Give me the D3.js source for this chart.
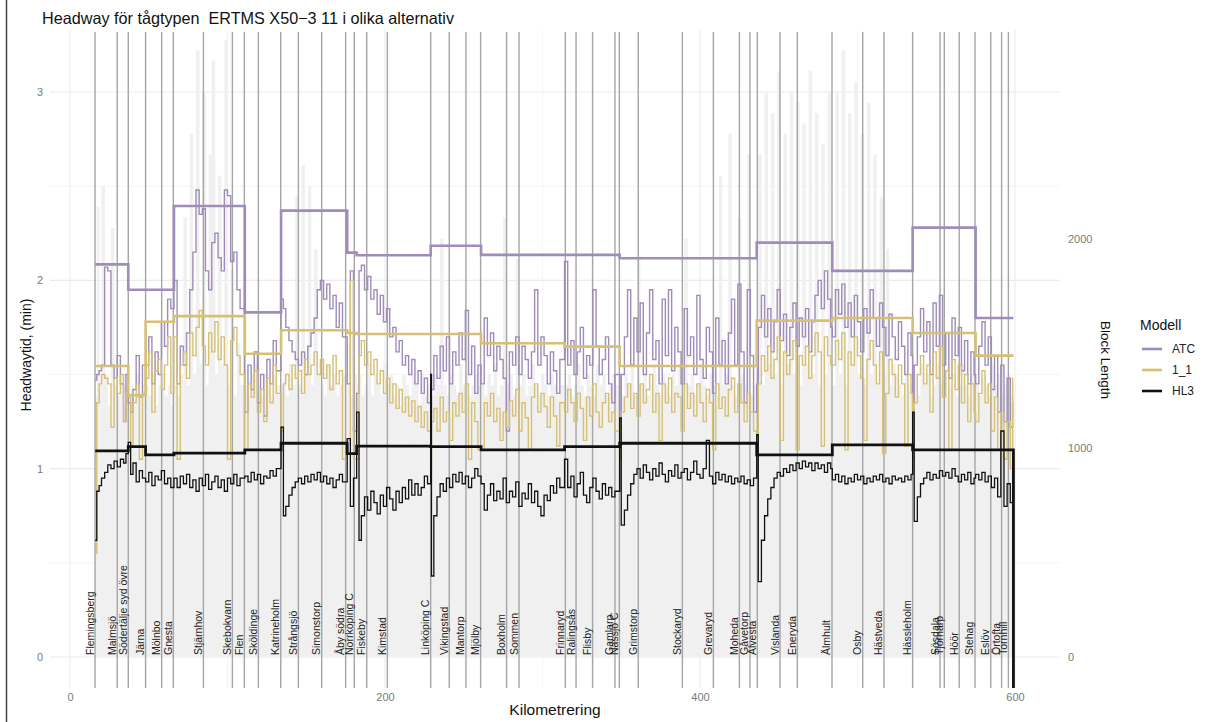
<!DOCTYPE html>
<html lang="sv">
<head>
<meta charset="UTF-8">
<script src="https://d3js.org/d3.v7.min.js"></script>
<style>
  body { margin: 0; background: #fff; }
  text { font-family: "Liberation Sans", Arial, sans-serif; }
  .tick text { fill: #7a7a7a; font-size: 11px; }
  .tick line, .domain { display: none; }
</style>
</head>
<body>
<svg width="1206" height="722"></svg>
<script>
// ---- data ----
var modelNames = ["ATC", "1_1", "HL3"];
var xTicks = [0, 200, 400, 600];
var yTicks = [0, 1, 2, 3];
var blTicks = [0, 1000, 2000];

var stationNames = ["Flemingsberg","Malmsjö","Södertälje syd övre","Järna","Mölnbo","Gnesta","Stjärnhov",
  "Skebokvarn","Flen","Sköldinge","Katrineholm","Strångsjö","Simonstorp","Åby södra","Norrköping C","Fiskeby",
  "Kimstad","Linköping C","Vikingstad","Mantorp","Mjölby","Boxholm","Sommen","Frinnaryd","Ralingsås","Flisby",
  "Gamlarp","Nässjö C","Grimstorp","Stockaryd","Grevaryd","Moheda","Gåvetorp","Alvesta","Vislanda","Eneryda",
  "Älmhult","Osby","Hästveda","Hässleholm","Sösdala","Tjörnarp","Höör","Stehag","Eslöv","Örtofta","Tornhill"];
var stationKm = [15.9,30.0,37.0,48.0,58.2,65.6,84.7,103.1,110.7,119.6,133.8,145.0,159.8,175.0,180.5,188.4,
  201.5,229.0,240.8,251.4,260.7,277.2,285.1,314.5,321.3,331.8,346.0,348.8,360.8,388.8,408.5,425.0,431.7,436.4,
  450.8,461.8,483.8,503.3,516.8,535.0,552.4,555.1,564.6,574.6,584.6,591.5,595.8];

// section (thick) lines: value from sectionKm[i] to sectionKm[i+1]
var sectionKm  = [16, 37, 48, 66, 111, 134, 176, 182, 229, 261, 314, 349, 436, 484, 535, 575, 599];
var atcSection = [2.085, 1.95, 1.95, 2.395, 1.83, 2.37, 2.147, 2.133, 2.184, 2.135, 2.135, 2.117, 2.20, 2.05, 2.28, 1.80];
var oneSection = [1.545, 1.39, 1.78, 1.81, 1.61, 1.735, 1.72, 1.715, 1.715, 1.666, 1.648, 1.545, 1.786, 1.80, 1.72, 1.60];
var hl3Section = [1.094, 1.117, 1.073, 1.082, 1.10, 1.135, 1.08, 1.12, 1.117, 1.10, 1.117, 1.135, 1.073, 1.126, 1.10, 1.10];
var hl3EndDrop = -0.3;

// block (thin) lines and block lengths
var endKm = 599;
var blockKm = [
  16, 17, 18.5, 20, 22, 24, 26, 28, 30, 32, 34, 35.5,
  37, 38.5, 40, 42, 44, 46,
  48, 50, 52, 54, 56, 58, 60, 62, 64,
  66, 68, 70, 72, 74, 76, 78, 80, 82, 84, 86, 88, 90, 92, 94, 96, 98, 100, 102, 104, 106, 108,
  111, 113, 115, 117, 119, 121, 123, 125, 127, 129, 131,
  134, 135.5, 137, 139, 141, 143, 145, 147, 149, 151, 153, 155, 157, 159, 161, 163, 165, 167, 169, 171, 173,
  176, 178, 180,
  182, 183.5, 185, 187, 189, 191, 193, 195, 197, 199, 201, 203, 205, 207, 209, 211, 213, 215, 217, 219, 221, 223, 225, 227,
  229, 229.5, 231, 233, 235, 237, 239, 241, 243, 245, 247, 249, 251, 253, 255, 257, 259,
  261, 263, 265, 267, 269, 271, 273, 275, 277, 279, 281, 283, 285, 287, 289, 291, 293, 295, 297, 299, 301, 303, 305, 307, 309, 311,
  314, 316, 318, 320, 322, 324, 326, 328, 330, 332, 334, 336, 338, 340, 342, 344, 346,
  349, 350, 352, 354, 356, 358, 360, 362, 364, 366, 368, 370, 372, 374, 376, 378, 380, 382, 384, 386, 388, 390,
  392, 394, 396, 398, 400, 402, 404, 406, 408, 410, 412, 414, 416, 418, 420, 422, 424, 426, 428, 430, 432, 434,
  436, 437, 439, 441, 443, 445, 447, 449, 451, 453, 455, 457, 459, 461, 463, 465, 467, 469, 471, 473, 475, 477, 479, 481, 483,
  484, 486, 488, 490, 492, 494, 496, 498, 500, 502, 504, 506, 508, 510, 512, 514, 516, 518, 520, 522, 524, 526, 528, 530, 532, 534,
  535, 536, 538, 540, 542, 544, 546, 548, 550, 552, 554, 556, 558, 560, 562, 564, 566, 568, 570, 572, 574,
  575, 577, 579, 581, 583, 585, 587, 589, 591, 593, 595, 597, 598.5
];
var atcHeadway = [
  1.47, 1.50, 1.52, 1.55, 2.07, 2.05, 1.55, 1.48, 1.60, 1.45, 1.25, 1.50,
  1.35, 1.30, 1.42, 1.60, 1.38, 1.55,
  1.55, 1.70, 1.45, 1.62, 1.50, 1.78, 1.65, 1.90, 1.85,
  2.00, 1.45, 1.65, 1.55, 1.72, 1.95, 2.15, 2.48, 2.35, 2.38, 2.05, 1.95, 2.20, 2.25, 2.12, 2.05, 2.48, 2.45, 2.10, 2.15, 1.95, 1.85,
  1.30, 1.55, 1.42, 1.62, 1.35, 1.50, 1.28, 1.58, 1.45, 1.68, 1.52,
  1.90, 1.85, 1.75, 1.68, 1.62, 1.58, 1.55, 1.62, 1.50, 1.65, 1.72, 1.80, 1.95, 2.00, 1.90, 1.98, 1.85, 1.92, 1.75, 1.88, 1.70,
  1.45, 2.05, 1.20,
  1.40, 2.05, 2.08, 1.95, 2.02, 1.90, 1.95, 1.82, 1.92, 1.78, 1.85, 1.70, 1.75, 1.62, 1.68, 1.55, 1.60, 1.50, 1.58, 1.45, 1.52, 1.40, 1.48, 1.35,
  1.50, 1.42, 1.60, 1.48, 1.65, 1.52, 1.70, 1.45, 1.62, 1.55, 1.72, 1.58, 1.84, 1.50, 1.65, 1.40, 1.55,
  1.45, 1.80, 1.60, 1.72, 1.52, 1.65, 1.58, 1.48, 1.20, 1.62, 1.55, 1.70, 1.50, 1.65, 1.58, 1.48, 1.62, 1.95, 1.55, 1.70, 1.60, 1.45, 1.62, 1.52, 1.40, 1.58,
  2.10, 1.55, 1.68, 1.50, 1.62, 1.75, 1.48, 1.60, 1.55, 1.95, 1.65, 1.50, 1.58, 1.70, 1.45, 1.35, 1.50,
  1.25, 1.50, 1.70, 1.95, 1.55, 1.80, 1.62, 1.88, 1.50, 1.72, 1.95, 1.58, 1.68, 1.45, 1.90, 1.60, 1.95, 1.52, 1.75, 1.62, 1.45, 1.85,
  1.60, 1.70, 1.50, 1.92, 1.58, 1.48, 1.75, 1.62, 1.40, 1.80, 1.55, 1.68, 1.45, 1.72, 1.90, 1.55, 1.98, 1.62, 1.35, 1.95, 1.60, 1.30,
  1.45, 1.75, 1.92, 1.70, 1.85, 1.62, 1.78, 1.95, 1.68, 1.82, 1.60, 1.75, 1.88, 1.65, 1.80, 1.70, 1.85, 1.62, 1.78, 1.92, 2.00, 1.85, 2.05, 1.90, 1.75,
  1.70, 1.95, 1.82, 1.98, 1.75, 1.88, 1.70, 1.92, 1.78, 1.62, 1.85, 1.72, 1.95, 1.80, 1.65, 1.88, 1.75, 1.60, 1.82, 1.70, 1.58, 1.78, 1.65, 1.50, 1.72, 1.60,
  1.35, 1.55, 1.70, 1.85, 1.62, 1.78, 1.50, 1.88, 1.65, 1.92, 1.55, 1.72, 1.48, 1.80, 1.60, 1.75, 1.52, 1.68, 1.45, 1.62, 1.50,
  1.45, 1.65, 1.78, 1.55, 1.70, 1.42, 1.60, 1.30, 1.55, 1.25, 1.48, 1.22, 1.35
];
var oneHeadway = [
  0.55, 1.35, 1.45, 1.50, 1.48, 1.45, 1.22, 1.48, 1.40, 1.50, 1.25, 1.40,
  1.38, 1.12, 1.35, 1.45, 1.05, 1.40,
  1.48, 1.62, 1.30, 1.52, 1.58, 1.42, 1.55, 1.70, 1.40,
  1.70, 1.05, 1.55, 1.62, 1.48, 1.72, 1.60, 1.75, 1.84, 1.65, 1.55, 1.72, 1.62, 1.78, 1.58, 1.70, 1.55, 1.05, 1.68, 1.75, 1.60, 1.50,
  1.10, 1.45, 1.38, 1.52, 1.30, 1.42, 1.25, 1.48, 1.35, 1.55, 1.40,
  1.20, 1.45, 1.50, 1.42, 1.55, 1.48, 1.52, 1.40, 1.58, 1.50, 1.55, 1.62, 1.50, 1.58, 1.48, 1.55, 1.42, 1.60, 1.45, 1.52, 1.05,
  1.15, 2.00, 1.05,
  1.05, 1.60, 1.68, 1.55, 1.62, 1.50, 1.58, 1.45, 1.52, 1.40, 1.48, 1.35, 1.45, 1.32, 1.42, 1.30, 1.38, 1.28, 1.36, 1.25, 1.33, 1.22, 1.30, 1.20,
  1.00, 1.25, 1.32, 1.20, 1.38, 1.25, 1.30, 1.15, 1.35, 1.28, 1.40, 1.30, 1.45, 1.05, 1.35, 1.25, 1.10,
  1.10, 1.35, 1.28, 1.40, 1.25, 1.32, 1.15, 1.30, 1.22, 1.36, 1.28, 1.42, 1.20, 1.35, 1.27, 1.10, 1.38, 1.45, 1.30, 1.40, 1.33, 1.22, 1.38, 1.28, 1.12, 1.35,
  1.30, 1.42, 1.35, 1.25, 1.40, 1.32, 1.15, 1.38, 1.28, 1.45, 1.30, 1.22, 1.35, 1.40, 1.25, 1.30, 1.20,
  1.05, 1.30, 1.38, 1.45, 1.32, 1.40, 1.28, 1.45, 1.35, 1.42, 1.50, 1.30, 1.40, 1.15, 1.45, 1.35, 1.48, 1.30, 1.40, 1.38, 1.20, 1.45,
  1.32, 1.40, 1.28, 1.45, 1.35, 1.25, 1.42, 1.35, 1.10, 1.45, 1.32, 1.38, 1.28, 1.42, 1.48, 1.30, 1.45, 1.35, 1.25, 1.40, 1.30, 1.20,
  1.10, 1.45, 1.60, 1.52, 1.65, 1.48, 1.58, 1.70, 1.15, 1.62, 1.50, 1.58, 1.68, 1.10, 1.60, 1.55, 1.65, 1.48, 1.60, 1.72, 1.62, 1.12, 1.70, 1.60, 1.55,
  1.55, 1.68, 1.58, 1.72, 1.10, 1.62, 1.55, 1.70, 1.60, 1.48, 1.15, 1.58, 1.68, 1.55, 1.45, 1.62, 1.08, 1.40, 1.58, 1.50, 1.38, 1.55, 1.45, 1.12, 1.50, 1.40,
  1.05, 1.35, 1.50, 1.60, 1.45, 1.55, 1.30, 1.62, 1.48, 1.65, 1.38, 1.52, 1.10, 1.58, 1.42, 1.55, 1.35, 1.50, 1.25, 1.45, 1.30,
  1.25, 1.40, 1.52, 1.35, 1.45, 1.20, 1.38, 1.10, 1.30, 1.05, 1.25, 1.00, 1.48
];
var hl3Headway = [
  0.62, 0.88, 0.91, 0.95, 0.98, 1.02, 1.00, 1.04, 1.01, 1.05, 1.03, 1.08,
  1.14, 0.97, 1.03, 0.93, 0.99, 0.95,
  0.93, 0.98, 0.91, 0.96, 0.94, 0.99, 0.92, 0.95, 0.90,
  0.95, 0.90, 0.96, 0.92, 0.97, 0.90, 0.94, 0.88, 0.95, 0.91, 0.97, 0.89, 0.93, 0.96, 0.90, 0.94, 0.88, 0.95, 0.92, 0.97, 0.91, 0.95,
  0.96, 0.93, 0.98, 0.94, 0.97, 0.92, 0.96, 0.95, 0.99, 0.96, 1.00,
  1.22, 0.75, 0.80, 0.86, 0.90, 0.93, 0.95, 0.92, 0.96, 0.93, 0.97, 0.94, 0.98, 0.93, 0.96, 0.92, 0.95, 0.90, 0.94, 0.97, 0.93,
  1.16, 0.80, 0.95,
  1.30, 0.62, 0.75, 0.85, 0.78, 0.88, 0.82, 0.76, 0.86, 0.80, 0.90, 0.84, 0.78, 0.88, 0.82, 0.90, 0.84, 0.94, 0.86, 0.92, 0.86, 0.90, 0.96, 0.92,
  1.50, 0.43, 0.75, 0.85, 0.92, 0.88, 0.95, 0.90, 0.97, 0.93, 0.98, 0.92, 0.96, 0.90, 0.95, 1.00, 0.96,
  0.92, 0.78, 0.86, 0.92, 0.83, 0.88, 0.84, 0.95, 0.82, 0.88, 0.85, 0.93, 0.80, 0.87, 0.84, 0.92, 0.82, 0.88, 0.80, 0.75, 0.86, 0.83, 0.91, 0.87, 0.95, 0.90,
  1.05, 0.90, 0.96, 0.85, 0.92, 0.98, 0.86, 0.82, 0.90, 0.95, 0.88, 0.84, 0.92, 0.86, 0.90, 0.85, 0.88,
  1.27, 0.70, 0.78, 0.86, 0.92, 0.97, 1.00, 0.95, 1.02, 0.98, 0.94, 1.00, 0.96, 1.03, 0.97, 0.93, 0.99, 0.96, 1.02, 0.95, 0.98, 1.00,
  0.94, 0.98, 1.04, 0.97, 0.95, 1.00, 1.15, 0.96, 0.92, 0.98, 0.94, 0.97, 0.93, 0.96, 0.92, 0.95, 0.93, 0.96, 0.92, 0.94, 0.91, 0.95,
  1.18, 0.40, 0.62, 0.75, 0.84, 0.90, 0.95, 0.98, 0.96, 1.00, 0.98, 1.02, 0.99, 1.03, 1.00, 1.04, 1.01, 1.03, 0.99, 1.03, 1.00, 1.02, 0.98, 1.03, 1.00,
  0.94, 0.97, 0.93, 0.96, 0.92, 0.95, 0.93, 0.97, 0.94, 0.96, 0.92, 0.95, 0.93, 0.96, 0.94, 0.97, 0.93, 0.95, 0.92, 0.96, 0.94, 0.95, 0.93, 0.96, 0.94, 0.97,
  1.30, 0.72, 0.85, 0.92, 0.95, 0.98, 0.94, 0.97, 0.95, 0.99, 0.96, 0.98, 0.95, 1.00, 0.96, 0.93, 0.97, 0.94, 0.98, 0.92, 0.95,
  0.97, 0.94, 0.98, 0.93, 0.96, 0.90, 0.95, 0.85, 1.20, 0.80, 0.92, 0.82, 0.95
];
var blockLength = [
  1250, 2150, 1300, 2250, 1350, 1200, 2050, 1300, 1250, 1350, 1200, 1300,
  1250, 1300, 1200, 1350, 1250, 1300,
  1300, 1250, 1350, 1200, 1300, 1350, 1250, 1300, 1200,
  1300, 1250, 1350, 2100, 1300, 2500, 1350, 2900, 1400, 2700, 1300, 2400, 2850, 1350, 2300, 1400, 2950, 1300, 1850, 1250, 1500, 1300,
  1300, 1250, 1350, 1400, 1300, 1250, 1350, 1300, 1250, 1350, 1300,
  1300, 1350, 1250, 1400, 1300, 2200, 1300, 2350, 1350, 2250, 1300, 1950, 1350, 1300, 1250, 1400, 1300, 1350, 1250, 1300, 1350,
  1300, 1250, 1350,
  1300, 1350, 1250, 1300, 1400, 1250, 1350, 1300, 1250, 1400, 1300, 1350, 1250, 1300, 1200, 1350, 1300, 1250, 1350, 1300, 1200, 1350, 1250, 1300,
  1300, 1250, 1350, 1300, 2000, 1300, 1250, 1350, 1300, 1250, 1400, 1300, 1350, 1250, 1300, 1350, 1300,
  1300, 1250, 1350, 1300, 1400, 1250, 1300, 2100, 1300, 1350, 1250, 1900, 1300, 1350, 1250, 1300, 1400, 1300, 1250, 1350, 1300, 1250, 1350, 1300, 1250, 1300,
  1300, 1350, 1250, 1300, 1400, 1300, 1250, 1350, 1300, 1250, 1400, 1300, 1350, 1250, 1300, 1350, 1300,
  1300, 1250, 1350, 1300, 1400, 1250, 1900, 1300, 1350, 1250, 1300, 1400, 1300, 1250, 1350, 1300, 1250, 1350, 1300, 1400, 1250, 2000,
  1300, 1350, 1250, 1300, 1400, 1300, 1250, 1350, 1300, 1250, 2300, 1300, 1350, 2500, 1300, 1250, 2100, 1350, 1300, 2400, 1250, 1300,
  1350, 2400, 1300, 2700, 1400, 2600, 1350, 2800, 1300, 2500, 1400, 2700, 1350, 2650, 1300, 2550, 1400, 2800, 1350, 2600, 1300, 2450, 1350, 2700, 1300,
  1300, 2700, 1350, 2900, 1300, 2600, 1400, 2750, 1350, 2500, 1300, 2650, 1350, 2400, 1300, 2200, 1350, 1950, 1300, 1400, 1350, 1300, 1250, 1350, 1300, 1250,
  1300, 1350, 1250, 1400, 1300, 1350, 1250, 1300, 1400, 1300, 1350, 1250, 1300, 1350, 1250, 1300, 1400, 1300, 1250, 1350, 1300,
  1300, 1250, 1350, 1300, 1250, 1400, 1300, 1350, 1250, 1300, 1350, 1250, 1300
];

// ---- setup ----
var svg = d3.select("svg");
var colors = {"ATC": "#9f8cb9", "1_1": "#d6c074", "HL3": "#111111"};
var panel = {left: 50, right: 1060, top: 30, bottom: 688};

var x = d3.scaleLinear().domain([0, 600]).range([70, 1015]);
var y = d3.scaleLinear().domain([0, 3]).range([657, 92]);
var yBlock = d3.scaleLinear().domain([0, 2700]).range([657, 92]); // sec axis = headway * 900

svg.append("defs").append("clipPath").attr("id", "clip")
  .append("rect").attr("x", panel.left).attr("y", panel.top)
  .attr("width", panel.right - panel.left).attr("height", panel.bottom - panel.top);

// grid
var grid = svg.append("g");
[0.5, 1.5, 2.5].forEach(function(v) {
  grid.append("line").attr("x1", panel.left).attr("x2", panel.right)
    .attr("y1", y(v)).attr("y2", y(v)).attr("stroke", "#f2f2f2").attr("stroke-width", 0.8);
});
yTicks.forEach(function(v) {
  grid.append("line").attr("x1", panel.left).attr("x2", panel.right)
    .attr("y1", y(v)).attr("y2", y(v)).attr("stroke", "#ebebeb").attr("stroke-width", 1.1);
});
[100, 300, 500].forEach(function(v) {
  grid.append("line").attr("y1", panel.top).attr("y2", panel.bottom)
    .attr("x1", x(v)).attr("x2", x(v)).attr("stroke", "#f2f2f2").attr("stroke-width", 0.8);
});
xTicks.forEach(function(v) {
  grid.append("line").attr("y1", panel.top).attr("y2", panel.bottom)
    .attr("x1", x(v)).attr("x2", x(v)).attr("stroke", "#ebebeb").attr("stroke-width", 1.1);
});

var plot = svg.append("g").attr("clip-path", "url(#clip)");

// block length bars
plot.append("g").selectAll("rect")
  .data(blockKm)
  .join("rect")
  .attr("x", function(d) { return x(d); })
  .attr("width", function(d, i) { var next = i + 1 < blockKm.length ? blockKm[i + 1] : endKm; return x(next) - x(d) + 0.3; })
  .attr("y", function(d, i) { return yBlock(blockLength[i]); })
  .attr("height", function(d, i) { return yBlock(0) - yBlock(blockLength[i]); })
  .attr("fill", "#f0f0f0");

// station lines
plot.append("g").selectAll("line")
  .data(stationKm)
  .join("line")
  .attr("x1", function(d) { return x(d); }).attr("x2", function(d) { return x(d); })
  .attr("y1", panel.top + 2).attr("y2", panel.bottom)
  .attr("stroke", "#a5a5a5").attr("stroke-width", 1.4);

// station labels
svg.append("g").selectAll("text")
  .data(stationNames)
  .join("text")
  .attr("transform", function(d, i) { return "translate(" + (x(stationKm[i]) - 1.5) + ",655) rotate(-90)"; })
  .attr("font-size", "10.5px")
  .attr("fill", "#222")
  .text(function(d) { return d; });

var step = d3.line()
  .x(function(d) { return x(d[0]); })
  .y(function(d) { return y(d[1]); })
  .curve(d3.curveStepAfter);

function thinSeries(vals) {
  var pts = blockKm.map(function(k, i) { return [k, vals[i]]; }).filter(function(d) { return d[1] != null; });
  pts.push([endKm, pts[pts.length - 1][1]]);
  return pts;
}
function sectionSeries(vals) {
  var pts = vals.map(function(v, i) { return [sectionKm[i], v]; });
  pts.push([sectionKm[sectionKm.length - 1], vals[vals.length - 1]]);
  return pts;
}

var lines = plot.append("g").attr("fill", "none");
lines.append("path").attr("d", step(thinSeries(atcHeadway))).attr("stroke", colors["ATC"]).attr("stroke-width", 1.4);
lines.append("path").attr("d", step(thinSeries(oneHeadway))).attr("stroke", colors["1_1"]).attr("stroke-width", 1.4);
lines.append("path").attr("d", step(sectionSeries(atcSection))).attr("stroke", colors["ATC"]).attr("stroke-width", 2.6);
lines.append("path").attr("d", step(sectionSeries(oneSection))).attr("stroke", colors["1_1"]).attr("stroke-width", 2.6);
lines.append("path").attr("d", step(thinSeries(hl3Headway))).attr("stroke", colors["HL3"]).attr("stroke-width", 1.3);
var hl3Pts = sectionSeries(hl3Section);
lines.append("path").attr("d", step(hl3Pts) + "L" + x(sectionKm[sectionKm.length - 1]) + "," + y(hl3EndDrop))
  .attr("stroke", colors["HL3"]).attr("stroke-width", 2.8);

// axes
var fmt = d3.format("d");
svg.append("g").attr("transform", "translate(" + panel.left + ",0)")
  .call(d3.axisLeft(y).tickValues(yTicks).tickFormat(fmt).tickSize(0).tickPadding(7));
svg.append("g").attr("transform", "translate(" + panel.right + ",0)")
  .call(d3.axisRight(yBlock).tickValues(blTicks).tickFormat(fmt).tickSize(0).tickPadding(8));
svg.append("g").attr("transform", "translate(0," + panel.bottom + ")")
  .call(d3.axisBottom(x).tickValues(xTicks).tickFormat(fmt).tickSize(0).tickPadding(5));

// titles
svg.append("text").attr("x", 42).attr("y", 24).attr("font-size", "16.5px").attr("fill", "#111")
  .attr("textLength", 412).attr("lengthAdjust", "spacingAndGlyphs")
  .style("white-space", "pre")
  .text("Headway för tågtypen  ERTMS X50\u22123 11 i olika alternativ");
svg.append("text").attr("transform", "translate(31,355) rotate(-90)").attr("text-anchor", "middle")
  .attr("font-size", "14px").attr("fill", "#111").text("Headwaytid, (min)");
svg.append("text").attr("transform", "translate(1101,360) rotate(90)").attr("text-anchor", "middle")
  .attr("font-size", "13.5px").attr("fill", "#111").text("Block Length");
svg.append("text").attr("x", 555).attr("y", 715).attr("text-anchor", "middle")
  .attr("font-size", "15.5px").attr("fill", "#111").text("Kilometrering");

// legend
var legend = svg.append("g").attr("transform", "translate(1140,0)");
legend.append("text").attr("x", 0).attr("y", 330).attr("font-size", "14px").attr("fill", "#111").text("Modell");
modelNames.forEach(function(m, i) {
  var ly = 349 + i * 21;
  legend.append("line").attr("x1", 2).attr("x2", 22).attr("y1", ly).attr("y2", ly)
    .attr("stroke", colors[m]).attr("stroke-width", 2.6);
  legend.append("text").attr("x", 32).attr("y", ly + 4).attr("font-size", "12px").attr("fill", "#222").text(m);
});

// left border of the screenshot
svg.append("line").attr("x1", 6.5).attr("x2", 6.5).attr("y1", 0).attr("y2", 722)
  .attr("stroke", "#444").attr("stroke-width", 1.5);
</script>
</body>
</html>
